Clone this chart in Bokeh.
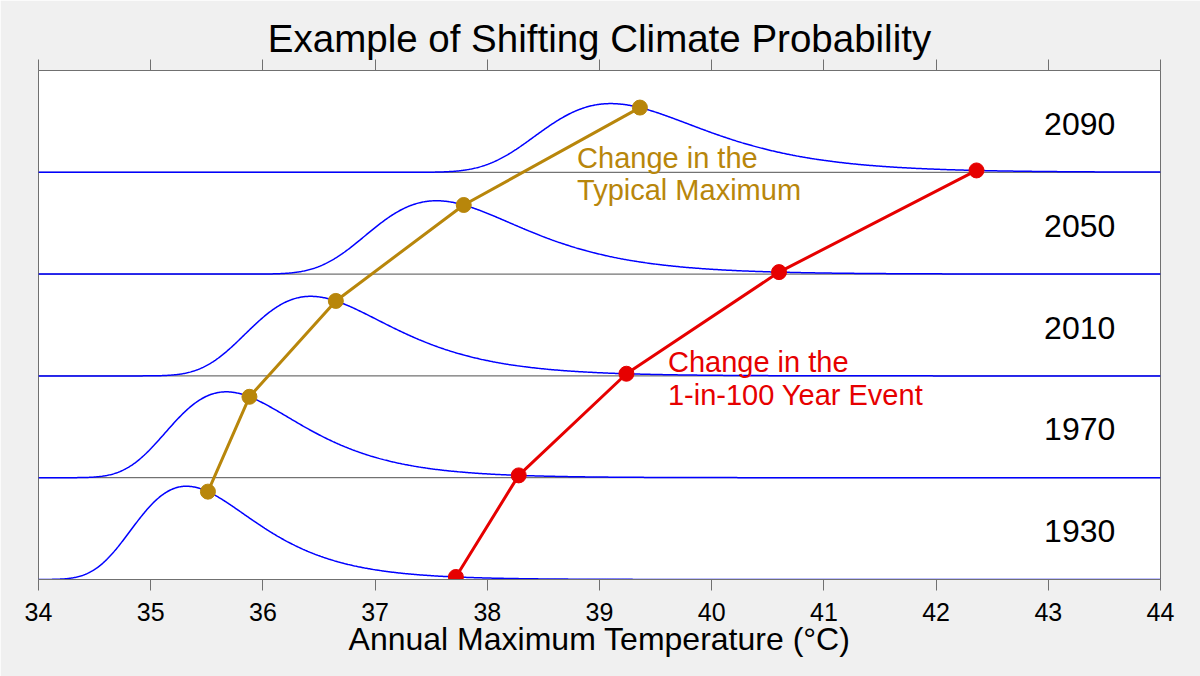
import numpy as np
from bokeh.plotting import figure
from bokeh.models import Range1d, LinearAxis, FixedTicker
from bokeh.core.properties import value
from bokeh.embed import file_html
from bokeh.resources import INLINE

# ---- data ----
years = [1930, 1970, 2010, 2050, 2090]
typical_max = [35.51, 35.88, 36.65, 37.79, 39.36]      # median annual maximum (degC)
event_100yr = [37.72, 38.28, 39.24, 40.60, 42.36]      # 1-in-100 year event (degC)
x_ticks = [34, 35, 36, 37, 38, 39, 40, 41, 42, 43, 44]
x_tick_labels = ["34", "35", "36", "37", "38", "39", "40", "41", "42", "43", "44"]
density_scale = 1.3

# Gumbel fit of each distribution from the two read quantiles
z_med = -np.log(np.log(2.0))
z_100 = -np.log(-np.log(0.99))
beta = [(e - t) / (z_100 - z_med) for t, e in zip(typical_max, event_100yr)]
mu = [t - b * z_med for t, b in zip(typical_max, beta)]


def pdf(x, m, b):
    z = (np.asarray(x) - m) / b
    return np.exp(-z - np.exp(-z)) / b


FONT = value("Liberation Sans")
GOLD = "#b8860b"
RED = "#e60000"
BLUE = "#0000ff"

p = figure(width=1200, height=676, output_backend="svg", toolbar_location=None,
           x_range=Range1d(34, 44), y_range=Range1d(0, 5),
           min_border_left=38, min_border_right=40, min_border_top=70, min_border_bottom=97,
           background_fill_color="white", border_fill_color="#f0f0f0",
           outline_line_color="#707070", outline_line_width=1)

p.title.text = "Example of Shifting Climate Probability"
p.title.text_font = "Liberation Sans"
p.title.text_font_size = "38.5px"
p.title.text_font_style = "normal"
p.title.align = "center"
p.title.text_color = "black"
p.title.standoff = 0

p.grid.visible = False
p.yaxis.visible = False

xa = p.xaxis[0]
xa.ticker = FixedTicker(ticks=x_ticks)
xa.major_label_overrides = {t: l for t, l in zip(x_ticks, x_tick_labels)}
xa.major_tick_in = 0
xa.major_tick_out = 11
xa.minor_tick_line_color = None
xa.axis_line_color = "#707070"
xa.major_tick_line_color = "#707070"
xa.major_label_text_font = "Liberation Sans"
xa.major_label_text_font_size = "25px"
xa.major_label_text_color = "black"
xa.major_label_standoff = 12
xa.axis_label = "Annual Maximum Temperature (°C)"
xa.axis_label_text_font = "Liberation Sans"
xa.axis_label_text_font_size = "32px"
xa.axis_label_text_font_style = "normal"
xa.axis_label_text_color = "black"
xa.axis_label_standoff = -3

top = LinearAxis(ticker=FixedTicker(ticks=x_ticks), major_tick_in=0, major_tick_out=11,
                 minor_tick_line_color=None, axis_line_color="#707070",
                 major_tick_line_color="#707070", major_label_text_font_size="0px",
                 major_label_standoff=0)
p.add_layout(top, "above")

xs = np.linspace(34, 44, 1201)
n = len(years)

# band separators
for i in range(1, n):
    p.line([34, 44], [i, i], line_color="#505050", line_width=1)

# distributions
for i in range(n):
    p.line(xs, i + density_scale * pdf(xs, mu[i], beta[i]), line_color=BLUE, line_width=1.5)

gy = [i + density_scale * pdf(typical_max[i], mu[i], beta[i]) for i in range(n)]
ry = [i + density_scale * pdf(event_100yr[i], mu[i], beta[i]) for i in range(n)]

p.line(typical_max, gy, line_color=GOLD, line_width=3)
p.scatter(typical_max, gy, size=15, fill_color=GOLD, line_color=GOLD)
p.line(event_100yr, ry, line_color=RED, line_width=3)
p.scatter(event_100yr, ry, size=15, fill_color=RED, line_color=RED)

# year labels
p.text(x=[43.28] * n, y=[i + 0.475 for i in range(n)], text=[str(y) for y in years],
       text_font=FONT, text_font_size="32px", text_color="black",
       text_align="center", text_baseline="alphabetic")

p.text(x=[38.80, 38.80], y=[4.14, 3.826], text=["Change in the", "Typical Maximum"],
       text_font=FONT, text_font_size="29px", text_color=GOLD,
       text_align="left", text_baseline="alphabetic")
p.text(x=[39.61, 39.61], y=[2.135, 1.811], text=["Change in the", "1-in-100 Year Event"],
       text_font=FONT, text_font_size="29px", text_color=RED,
       text_align="left", text_baseline="alphabetic")

open("out.html", "w").write(file_html(p, INLINE))
